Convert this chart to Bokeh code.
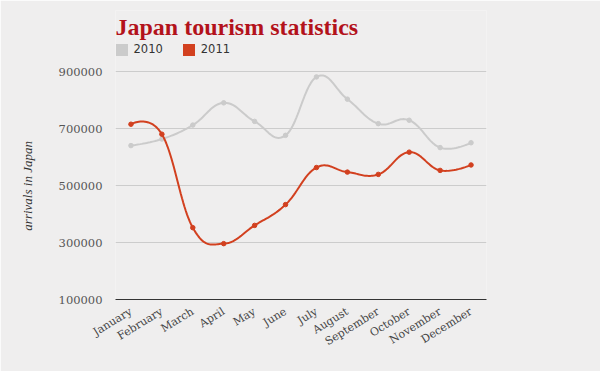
import numpy as np
from bokeh.plotting import figure
from bokeh.models import FixedTicker, CustomJSTickFormatter, Legend, LegendItem, Label
from bokeh.embed import file_html
from bokeh.resources import INLINE

months = ["January", "February", "March", "April", "May", "June", "July",
          "August", "September", "October", "November", "December"]
arrivals_2010 = [640000, 663000, 712000, 790000, 725000, 676000, 881000,
                 803000, 717000, 729000, 633000, 650000]
arrivals_2011 = [715000, 680000, 352000, 296000, 360000, 433000, 563000,
                 547000, 539000, 617000, 553000, 572000]
y_ticks = [100000, 300000, 500000, 700000, 900000]

BG = "#efeeee"
GRAY = "#cbcbcb"
RED = "#d2401f"
TITLE_RED = "#b3121b"

# layout (pixels): plot frame spans x 115..486, value axis 100000 at y=299, 900000 at y=71
PX_PER_UNIT = 228.0 / 800000.0
FRAME_TOP = 10
Y_TOP = 900000 + (71 - FRAME_TOP) / PX_PER_UNIT


def smooth_spline(y, smoothing=1.5, n_sub=24):
    """Bezier spline through the points (Highcharts-style control points)."""
    y = np.asarray(y, dtype=float)
    n = len(y)
    x = np.arange(n, dtype=float)
    denom = smoothing + 1
    lcx, lcy, rcx, rcy = x.copy(), y.copy(), x.copy(), y.copy()
    for i in range(1, n - 1):
        lx = (smoothing * x[i] + x[i - 1]) / denom
        ly = (smoothing * y[i] + y[i - 1]) / denom
        rx = (smoothing * x[i] + x[i + 1]) / denom
        ry = (smoothing * y[i] + y[i + 1]) / denom
        corr = (ry - ly) * (rx - x[i]) / (rx - lx) + y[i] - ry
        lcx[i], lcy[i], rcx[i], rcy[i] = lx, ly + corr, rx, ry + corr
    xs, ys = [], []
    for i in range(n - 1):
        t = np.linspace(0, 1, n_sub, endpoint=(i == n - 2))
        a = 1 - t
        bx = a**3 * x[i] + 3 * a**2 * t * rcx[i] + 3 * a * t**2 * lcx[i + 1] + t**3 * x[i + 1]
        by = a**3 * y[i] + 3 * a**2 * t * rcy[i] + 3 * a * t**2 * lcy[i + 1] + t**3 * y[i + 1]
        xs.extend(bx)
        ys.extend(by)
    return np.array(xs), np.array(ys)


p = figure(width=600, height=371, output_backend="svg", toolbar_location=None,
           x_range=(-0.5, 11.5), y_range=(100000, Y_TOP),
           min_border_left=115, min_border_right=114,
           min_border_top=FRAME_TOP, min_border_bottom=72)
p.background_fill_color = BG
p.border_fill_color = BG
p.outline_line_color = None

x_idx = list(range(len(months)))
swatches = []
for vals, col in ((arrivals_2010, GRAY), (arrivals_2011, RED)):
    sx, sy = smooth_spline(vals)
    p.line(sx, sy, line_color=col, line_width=2)
    p.scatter(x_idx, vals, size=4.5, fill_color=col, line_color=col)
    # legend swatch renderer (a single NaN quad: draws nothing in the plot)
    swatches.append(p.quad(left=[np.nan], right=[np.nan], top=[np.nan], bottom=[np.nan],
                           fill_color=col, line_color=None))

# title
p.add_layout(Label(x=-0.5, y=900000 + (71 - 26) / PX_PER_UNIT,
                   text="Japan tourism statistics",
                   text_font="Liberation Serif", text_font_style="bold",
                   text_font_size="24px", text_color=TITLE_RED,
                   text_baseline="alphabetic"))

legend = Legend(items=[LegendItem(label="2010", renderers=[swatches[0]]),
                       LegendItem(label="2011", renderers=[swatches[1]])],
                orientation="horizontal", location=(-1.5, 242.5),
                glyph_width=15, glyph_height=15, label_standoff=5, label_width=28,
                label_height=12, spacing=18, padding=0, margin=0,
                background_fill_alpha=0, border_line_color=None,
                label_text_font="DejaVu Sans", label_text_font_size="11.5px",
                label_text_color="#333333")
p.add_layout(legend)

# axes
p.xaxis.ticker = FixedTicker(ticks=x_idx)
p.xaxis.formatter = CustomJSTickFormatter(args=dict(labels=months),
                                          code="return labels[Math.round(tick)];")
p.xaxis.major_label_orientation = 0.55
p.xaxis.major_tick_line_color = None
p.xaxis.minor_tick_line_color = None
p.xaxis.major_tick_out = 0
p.xaxis.axis_line_color = "#333333"
p.xaxis.axis_line_width = 1.2
p.xaxis.major_label_standoff = 11
p.xaxis.major_label_text_font = "DejaVu Serif"
p.xaxis.major_label_text_font_size = "11px"
p.xaxis.major_label_text_color = "#444444"

p.yaxis.ticker = FixedTicker(ticks=y_ticks)
p.yaxis.formatter = CustomJSTickFormatter(code="return tick.toFixed(0);")
p.yaxis.axis_line_color = None
p.yaxis.major_tick_line_color = None
p.yaxis.minor_tick_line_color = None
p.yaxis.major_tick_out = 0
p.yaxis.major_label_standoff = 13
p.yaxis.major_label_text_font = "DejaVu Serif"
p.yaxis.major_label_text_font_size = "11.5px"
p.yaxis.major_label_text_color = "#555555"
# trailing no-break spaces shift the centred label down to the value area
p.yaxis.axis_label = "arrivals in Japan" + "\u00a0" * 19
p.yaxis.axis_label_text_font = "Liberation Serif"
p.yaxis.axis_label_text_font_style = "italic"
p.yaxis.axis_label_text_font_size = "13px"
p.yaxis.axis_label_text_color = "#333333"
p.yaxis.axis_label_standoff = 21

p.xgrid.grid_line_color = None
p.ygrid.grid_line_color = "#cccccc"
p.ygrid.ticker = FixedTicker(ticks=y_ticks[1:])

open("out.html", "w").write(file_html(p, INLINE))
